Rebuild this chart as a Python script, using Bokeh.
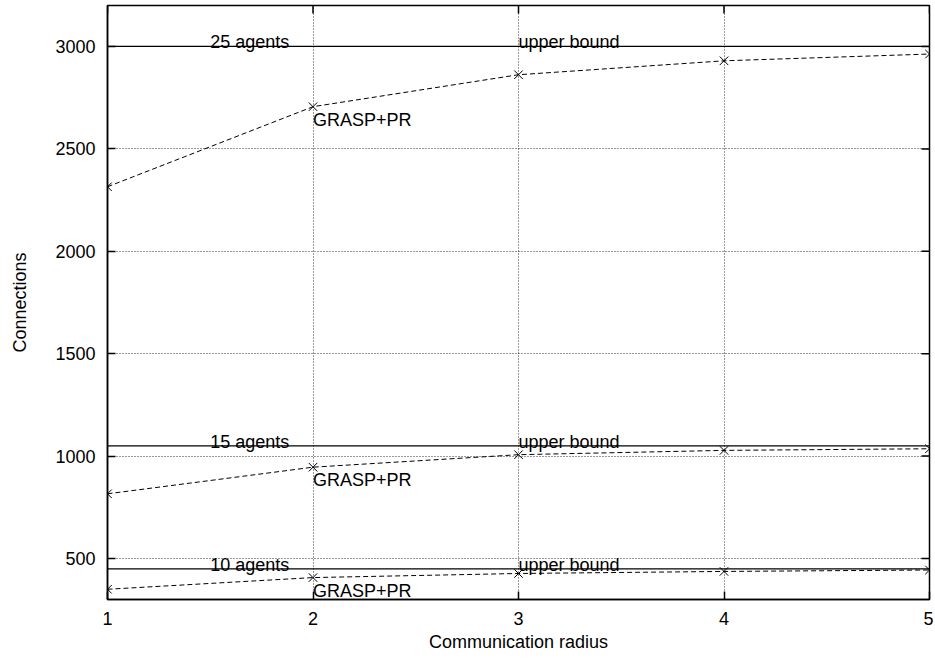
import math
from bokeh.plotting import figure
from bokeh.models import Range1d, Span, FixedTicker
from bokeh.core.properties import value
from bokeh.embed import file_html
from bokeh.resources import INLINE

# ---- data ----
radius = [1, 2, 3, 4, 5]
agent_labels = ["10 agents", "15 agents", "25 agents"]
upper_bound = [450, 1050, 3000]
grasp_10 = [350, 407, 427, 437, 444]
grasp_15 = [816, 946, 1007, 1028, 1036]
grasp_25 = [2315, 2706, 2862, 2930, 2963]
series = [grasp_10, grasp_15, grasp_25]
x_ticks = [1, 2, 3, 4, 5]
y_ticks = [500, 1000, 1500, 2000, 2500, 3000]

FONT = "Liberation Sans"
FS = "18px"
X_MIN, X_MAX = 1, 5
Y_MIN, Y_MAX = 300, 3200

p = figure(frame_width=822, frame_height=594,
           x_range=Range1d(X_MIN, X_MAX), y_range=Range1d(Y_MIN, Y_MAX),
           output_backend="svg", toolbar_location=None,
           min_border_left=107, min_border_top=5, min_border_right=4,
           min_border_bottom=56,
           background_fill_color="white", border_fill_color="white",
           outline_line_color="black", outline_line_width=1.5)

p.xaxis.ticker = FixedTicker(ticks=x_ticks)
p.yaxis.ticker = FixedTicker(ticks=y_ticks)
for ax in (p.xaxis, p.yaxis):
    ax.major_tick_in = 8
    ax.major_tick_out = 0
    ax.minor_tick_line_color = None
    ax.axis_line_color = "black"
    ax.axis_line_width = 1.5
    ax.major_tick_line_width = 1.5
    ax.major_label_text_font = FONT
    ax.major_label_text_font_size = FS
    ax.major_label_text_color = "black"
    ax.axis_label_text_font = FONT
    ax.axis_label_text_font_size = FS
    ax.axis_label_text_font_style = "normal"
    ax.axis_label_text_color = "black"
    ax.major_label_standoff = 12
p.xaxis.axis_label = "Communication radius"
p.yaxis.axis_label = "Connections"
p.xaxis.axis_label_standoff = 4
p.yaxis.axis_label_standoff = 22

for g in (p.xgrid, p.ygrid):
    g.grid_line_color = "black"
    g.grid_line_alpha = 0.8
    g.grid_line_dash = "1 2"
    g.grid_line_width = 1
p.xgrid.ticker = FixedTicker(ticks=x_ticks)
p.ygrid.ticker = FixedTicker(ticks=y_ticks)

# mirrored inner ticks on top and right edges
p.ray(x=x_ticks, y=[Y_MAX] * len(x_ticks), length=8, length_units="screen",
      angle=-math.pi / 2, line_color="black", line_width=1.5)
p.ray(x=[X_MAX] * len(y_ticks), y=y_ticks, length=8, length_units="screen",
      angle=math.pi, line_color="black", line_width=1.5)

# upper bounds
for ub in upper_bound:
    p.add_layout(Span(location=ub, dimension="width", line_color="black", line_width=1.2))

# GRASP+PR series
for s in series:
    p.line(radius, s, line_color="black", line_width=1, line_dash="5 3")
    p.scatter(radius, s, marker="x", size=12, line_color="black", line_width=1)

# labels
p.text(x=[1.5] * len(upper_bound), y=upper_bound, text=agent_labels,
       text_align="left", text_baseline="alphabetic", y_offset=-4,
       text_font=value(FONT), text_font_size=FS, text_color="black")
p.text(x=[3] * len(upper_bound), y=upper_bound, text=["upper bound"] * len(upper_bound),
       text_align="left", text_baseline="alphabetic", y_offset=-4,
       text_font=value(FONT), text_font_size=FS, text_color="black")
p.text(x=[radius[1]] * len(series), y=[s[1] for s in series], text=["GRASP+PR"] * len(series),
       text_align="left", text_baseline="top", y_offset=3,
       text_font=value(FONT), text_font_size=FS, text_color="black")

open("out.html", "w").write(file_html(p, INLINE))
